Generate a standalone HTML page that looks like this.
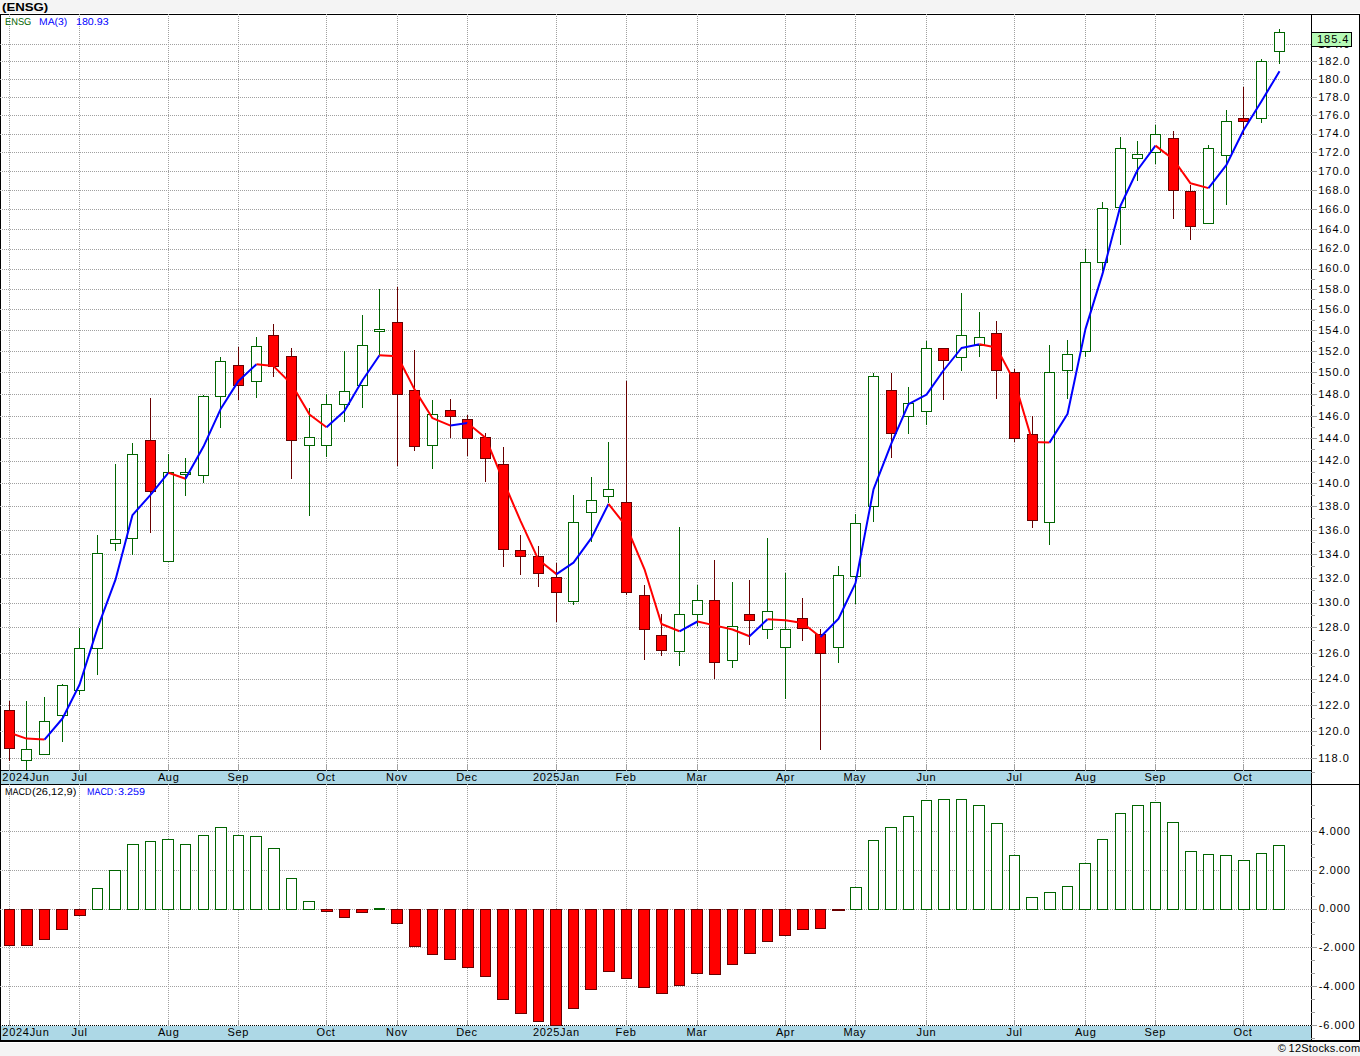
<!DOCTYPE html>
<html><head><meta charset="utf-8"><title>ENSG</title>
<style>
html,body{margin:0;padding:0;}
body{width:1360px;height:1056px;background:#f4f4f4;position:relative;overflow:hidden;font-family:"Liberation Sans",sans-serif;}
.t{position:absolute;white-space:nowrap;transform-origin:0 0;color:#000;line-height:14px;font-family:"Liberation Sans",sans-serif;}
</style></head><body>
<svg width="1360" height="1056" viewBox="0 0 1360 1056" style="position:absolute;left:0;top:0">
<g shape-rendering="crispEdges">
<rect x="0" y="13" width="1360" height="1030" fill="#ffffff"/>
<rect x="1" y="771" width="1310" height="13" fill="#add8e6"/>
<rect x="1" y="1026" width="1310" height="14" fill="#add8e6"/>
<line x1="0" y1="14.5" x2="1360" y2="14.5" stroke="#000"/>
<line x1="0.5" y1="14" x2="0.5" y2="1042" stroke="#000"/>
<line x1="1359.5" y1="14" x2="1359.5" y2="1042" stroke="#000"/>
<line x1="1311.5" y1="14" x2="1311.5" y2="1042" stroke="#000"/>
<line x1="0" y1="770.5" x2="1312" y2="770.5" stroke="#000"/>
<line x1="0" y1="784.5" x2="1360" y2="784.5" stroke="#000"/>
<line x1="0" y1="1025.5" x2="1312" y2="1025.5" stroke="#000" stroke-dasharray="1 1"/>
<rect x="0" y="1040" width="1360" height="2" fill="#000"/>
<line x1="9.5" y1="14" x2="9.5" y2="764" stroke="#a0a0a0" stroke-dasharray="1 1"/>
<line x1="9.5" y1="784" x2="9.5" y2="1020" stroke="#a0a0a0" stroke-dasharray="1 1"/>
<line x1="9.5" y1="764" x2="9.5" y2="771" stroke="#a0a0a0"/>
<line x1="9.5" y1="1020" x2="9.5" y2="1026" stroke="#a0a0a0"/>
<line x1="79.5" y1="14" x2="79.5" y2="764" stroke="#a0a0a0" stroke-dasharray="1 1"/>
<line x1="79.5" y1="784" x2="79.5" y2="1020" stroke="#a0a0a0" stroke-dasharray="1 1"/>
<line x1="79.5" y1="764" x2="79.5" y2="771" stroke="#a0a0a0"/>
<line x1="79.5" y1="1020" x2="79.5" y2="1026" stroke="#a0a0a0"/>
<line x1="168.5" y1="14" x2="168.5" y2="764" stroke="#a0a0a0" stroke-dasharray="1 1"/>
<line x1="168.5" y1="784" x2="168.5" y2="1020" stroke="#a0a0a0" stroke-dasharray="1 1"/>
<line x1="168.5" y1="764" x2="168.5" y2="771" stroke="#a0a0a0"/>
<line x1="168.5" y1="1020" x2="168.5" y2="1026" stroke="#a0a0a0"/>
<line x1="238.5" y1="14" x2="238.5" y2="764" stroke="#a0a0a0" stroke-dasharray="1 1"/>
<line x1="238.5" y1="784" x2="238.5" y2="1020" stroke="#a0a0a0" stroke-dasharray="1 1"/>
<line x1="238.5" y1="764" x2="238.5" y2="771" stroke="#a0a0a0"/>
<line x1="238.5" y1="1020" x2="238.5" y2="1026" stroke="#a0a0a0"/>
<line x1="326.5" y1="14" x2="326.5" y2="764" stroke="#a0a0a0" stroke-dasharray="1 1"/>
<line x1="326.5" y1="784" x2="326.5" y2="1020" stroke="#a0a0a0" stroke-dasharray="1 1"/>
<line x1="326.5" y1="764" x2="326.5" y2="771" stroke="#a0a0a0"/>
<line x1="326.5" y1="1020" x2="326.5" y2="1026" stroke="#a0a0a0"/>
<line x1="397.5" y1="14" x2="397.5" y2="764" stroke="#a0a0a0" stroke-dasharray="1 1"/>
<line x1="397.5" y1="784" x2="397.5" y2="1020" stroke="#a0a0a0" stroke-dasharray="1 1"/>
<line x1="397.5" y1="764" x2="397.5" y2="771" stroke="#a0a0a0"/>
<line x1="397.5" y1="1020" x2="397.5" y2="1026" stroke="#a0a0a0"/>
<line x1="467.5" y1="14" x2="467.5" y2="764" stroke="#a0a0a0" stroke-dasharray="1 1"/>
<line x1="467.5" y1="784" x2="467.5" y2="1020" stroke="#a0a0a0" stroke-dasharray="1 1"/>
<line x1="467.5" y1="764" x2="467.5" y2="771" stroke="#a0a0a0"/>
<line x1="467.5" y1="1020" x2="467.5" y2="1026" stroke="#a0a0a0"/>
<line x1="556.5" y1="14" x2="556.5" y2="764" stroke="#a0a0a0" stroke-dasharray="1 1"/>
<line x1="556.5" y1="784" x2="556.5" y2="1020" stroke="#a0a0a0" stroke-dasharray="1 1"/>
<line x1="556.5" y1="764" x2="556.5" y2="771" stroke="#a0a0a0"/>
<line x1="556.5" y1="1020" x2="556.5" y2="1026" stroke="#a0a0a0"/>
<line x1="626.5" y1="14" x2="626.5" y2="764" stroke="#a0a0a0" stroke-dasharray="1 1"/>
<line x1="626.5" y1="784" x2="626.5" y2="1020" stroke="#a0a0a0" stroke-dasharray="1 1"/>
<line x1="626.5" y1="764" x2="626.5" y2="771" stroke="#a0a0a0"/>
<line x1="626.5" y1="1020" x2="626.5" y2="1026" stroke="#a0a0a0"/>
<line x1="697.5" y1="14" x2="697.5" y2="764" stroke="#a0a0a0" stroke-dasharray="1 1"/>
<line x1="697.5" y1="784" x2="697.5" y2="1020" stroke="#a0a0a0" stroke-dasharray="1 1"/>
<line x1="697.5" y1="764" x2="697.5" y2="771" stroke="#a0a0a0"/>
<line x1="697.5" y1="1020" x2="697.5" y2="1026" stroke="#a0a0a0"/>
<line x1="785.5" y1="14" x2="785.5" y2="764" stroke="#a0a0a0" stroke-dasharray="1 1"/>
<line x1="785.5" y1="784" x2="785.5" y2="1020" stroke="#a0a0a0" stroke-dasharray="1 1"/>
<line x1="785.5" y1="764" x2="785.5" y2="771" stroke="#a0a0a0"/>
<line x1="785.5" y1="1020" x2="785.5" y2="1026" stroke="#a0a0a0"/>
<line x1="855.5" y1="14" x2="855.5" y2="764" stroke="#a0a0a0" stroke-dasharray="1 1"/>
<line x1="855.5" y1="784" x2="855.5" y2="1020" stroke="#a0a0a0" stroke-dasharray="1 1"/>
<line x1="855.5" y1="764" x2="855.5" y2="771" stroke="#a0a0a0"/>
<line x1="855.5" y1="1020" x2="855.5" y2="1026" stroke="#a0a0a0"/>
<line x1="926.5" y1="14" x2="926.5" y2="764" stroke="#a0a0a0" stroke-dasharray="1 1"/>
<line x1="926.5" y1="784" x2="926.5" y2="1020" stroke="#a0a0a0" stroke-dasharray="1 1"/>
<line x1="926.5" y1="764" x2="926.5" y2="771" stroke="#a0a0a0"/>
<line x1="926.5" y1="1020" x2="926.5" y2="1026" stroke="#a0a0a0"/>
<line x1="1014.5" y1="14" x2="1014.5" y2="764" stroke="#a0a0a0" stroke-dasharray="1 1"/>
<line x1="1014.5" y1="784" x2="1014.5" y2="1020" stroke="#a0a0a0" stroke-dasharray="1 1"/>
<line x1="1014.5" y1="764" x2="1014.5" y2="771" stroke="#a0a0a0"/>
<line x1="1014.5" y1="1020" x2="1014.5" y2="1026" stroke="#a0a0a0"/>
<line x1="1085.5" y1="14" x2="1085.5" y2="764" stroke="#a0a0a0" stroke-dasharray="1 1"/>
<line x1="1085.5" y1="784" x2="1085.5" y2="1020" stroke="#a0a0a0" stroke-dasharray="1 1"/>
<line x1="1085.5" y1="764" x2="1085.5" y2="771" stroke="#a0a0a0"/>
<line x1="1085.5" y1="1020" x2="1085.5" y2="1026" stroke="#a0a0a0"/>
<line x1="1155.5" y1="14" x2="1155.5" y2="764" stroke="#a0a0a0" stroke-dasharray="1 1"/>
<line x1="1155.5" y1="784" x2="1155.5" y2="1020" stroke="#a0a0a0" stroke-dasharray="1 1"/>
<line x1="1155.5" y1="764" x2="1155.5" y2="771" stroke="#a0a0a0"/>
<line x1="1155.5" y1="1020" x2="1155.5" y2="1026" stroke="#a0a0a0"/>
<line x1="1243.5" y1="14" x2="1243.5" y2="764" stroke="#a0a0a0" stroke-dasharray="1 1"/>
<line x1="1243.5" y1="784" x2="1243.5" y2="1020" stroke="#a0a0a0" stroke-dasharray="1 1"/>
<line x1="1243.5" y1="764" x2="1243.5" y2="771" stroke="#a0a0a0"/>
<line x1="1243.5" y1="1020" x2="1243.5" y2="1026" stroke="#a0a0a0"/>
<line x1="0" y1="758.5" x2="1311" y2="758.5" stroke="#a0a0a0" stroke-dasharray="1 1"/>
<line x1="1311" y1="758.5" x2="1317" y2="758.5" stroke="#a0a0a0"/>
<line x1="0" y1="731.5" x2="1311" y2="731.5" stroke="#a0a0a0" stroke-dasharray="1 1"/>
<line x1="1311" y1="731.5" x2="1317" y2="731.5" stroke="#a0a0a0"/>
<line x1="0" y1="705.5" x2="1311" y2="705.5" stroke="#a0a0a0" stroke-dasharray="1 1"/>
<line x1="1311" y1="705.5" x2="1317" y2="705.5" stroke="#a0a0a0"/>
<line x1="0" y1="679.5" x2="1311" y2="679.5" stroke="#a0a0a0" stroke-dasharray="1 1"/>
<line x1="1311" y1="679.5" x2="1317" y2="679.5" stroke="#a0a0a0"/>
<line x1="0" y1="653.5" x2="1311" y2="653.5" stroke="#a0a0a0" stroke-dasharray="1 1"/>
<line x1="1311" y1="653.5" x2="1317" y2="653.5" stroke="#a0a0a0"/>
<line x1="0" y1="627.5" x2="1311" y2="627.5" stroke="#a0a0a0" stroke-dasharray="1 1"/>
<line x1="1311" y1="627.5" x2="1317" y2="627.5" stroke="#a0a0a0"/>
<line x1="0" y1="603.5" x2="1311" y2="603.5" stroke="#a0a0a0" stroke-dasharray="1 1"/>
<line x1="1311" y1="603.5" x2="1317" y2="603.5" stroke="#a0a0a0"/>
<line x1="0" y1="578.5" x2="1311" y2="578.5" stroke="#a0a0a0" stroke-dasharray="1 1"/>
<line x1="1311" y1="578.5" x2="1317" y2="578.5" stroke="#a0a0a0"/>
<line x1="0" y1="554.5" x2="1311" y2="554.5" stroke="#a0a0a0" stroke-dasharray="1 1"/>
<line x1="1311" y1="554.5" x2="1317" y2="554.5" stroke="#a0a0a0"/>
<line x1="0" y1="530.5" x2="1311" y2="530.5" stroke="#a0a0a0" stroke-dasharray="1 1"/>
<line x1="1311" y1="530.5" x2="1317" y2="530.5" stroke="#a0a0a0"/>
<line x1="0" y1="506.5" x2="1311" y2="506.5" stroke="#a0a0a0" stroke-dasharray="1 1"/>
<line x1="1311" y1="506.5" x2="1317" y2="506.5" stroke="#a0a0a0"/>
<line x1="0" y1="483.5" x2="1311" y2="483.5" stroke="#a0a0a0" stroke-dasharray="1 1"/>
<line x1="1311" y1="483.5" x2="1317" y2="483.5" stroke="#a0a0a0"/>
<line x1="0" y1="461.5" x2="1311" y2="461.5" stroke="#a0a0a0" stroke-dasharray="1 1"/>
<line x1="1311" y1="461.5" x2="1317" y2="461.5" stroke="#a0a0a0"/>
<line x1="0" y1="438.5" x2="1311" y2="438.5" stroke="#a0a0a0" stroke-dasharray="1 1"/>
<line x1="1311" y1="438.5" x2="1317" y2="438.5" stroke="#a0a0a0"/>
<line x1="0" y1="416.5" x2="1311" y2="416.5" stroke="#a0a0a0" stroke-dasharray="1 1"/>
<line x1="1311" y1="416.5" x2="1317" y2="416.5" stroke="#a0a0a0"/>
<line x1="0" y1="394.5" x2="1311" y2="394.5" stroke="#a0a0a0" stroke-dasharray="1 1"/>
<line x1="1311" y1="394.5" x2="1317" y2="394.5" stroke="#a0a0a0"/>
<line x1="0" y1="372.5" x2="1311" y2="372.5" stroke="#a0a0a0" stroke-dasharray="1 1"/>
<line x1="1311" y1="372.5" x2="1317" y2="372.5" stroke="#a0a0a0"/>
<line x1="0" y1="351.5" x2="1311" y2="351.5" stroke="#a0a0a0" stroke-dasharray="1 1"/>
<line x1="1311" y1="351.5" x2="1317" y2="351.5" stroke="#a0a0a0"/>
<line x1="0" y1="330.5" x2="1311" y2="330.5" stroke="#a0a0a0" stroke-dasharray="1 1"/>
<line x1="1311" y1="330.5" x2="1317" y2="330.5" stroke="#a0a0a0"/>
<line x1="0" y1="309.5" x2="1311" y2="309.5" stroke="#a0a0a0" stroke-dasharray="1 1"/>
<line x1="1311" y1="309.5" x2="1317" y2="309.5" stroke="#a0a0a0"/>
<line x1="0" y1="289.5" x2="1311" y2="289.5" stroke="#a0a0a0" stroke-dasharray="1 1"/>
<line x1="1311" y1="289.5" x2="1317" y2="289.5" stroke="#a0a0a0"/>
<line x1="0" y1="269.5" x2="1311" y2="269.5" stroke="#a0a0a0" stroke-dasharray="1 1"/>
<line x1="1311" y1="269.5" x2="1317" y2="269.5" stroke="#a0a0a0"/>
<line x1="0" y1="249.5" x2="1311" y2="249.5" stroke="#a0a0a0" stroke-dasharray="1 1"/>
<line x1="1311" y1="249.5" x2="1317" y2="249.5" stroke="#a0a0a0"/>
<line x1="0" y1="229.5" x2="1311" y2="229.5" stroke="#a0a0a0" stroke-dasharray="1 1"/>
<line x1="1311" y1="229.5" x2="1317" y2="229.5" stroke="#a0a0a0"/>
<line x1="0" y1="209.5" x2="1311" y2="209.5" stroke="#a0a0a0" stroke-dasharray="1 1"/>
<line x1="1311" y1="209.5" x2="1317" y2="209.5" stroke="#a0a0a0"/>
<line x1="0" y1="190.5" x2="1311" y2="190.5" stroke="#a0a0a0" stroke-dasharray="1 1"/>
<line x1="1311" y1="190.5" x2="1317" y2="190.5" stroke="#a0a0a0"/>
<line x1="0" y1="171.5" x2="1311" y2="171.5" stroke="#a0a0a0" stroke-dasharray="1 1"/>
<line x1="1311" y1="171.5" x2="1317" y2="171.5" stroke="#a0a0a0"/>
<line x1="0" y1="152.5" x2="1311" y2="152.5" stroke="#a0a0a0" stroke-dasharray="1 1"/>
<line x1="1311" y1="152.5" x2="1317" y2="152.5" stroke="#a0a0a0"/>
<line x1="0" y1="134.5" x2="1311" y2="134.5" stroke="#a0a0a0" stroke-dasharray="1 1"/>
<line x1="1311" y1="134.5" x2="1317" y2="134.5" stroke="#a0a0a0"/>
<line x1="0" y1="115.5" x2="1311" y2="115.5" stroke="#a0a0a0" stroke-dasharray="1 1"/>
<line x1="1311" y1="115.5" x2="1317" y2="115.5" stroke="#a0a0a0"/>
<line x1="0" y1="97.5" x2="1311" y2="97.5" stroke="#a0a0a0" stroke-dasharray="1 1"/>
<line x1="1311" y1="97.5" x2="1317" y2="97.5" stroke="#a0a0a0"/>
<line x1="0" y1="79.5" x2="1311" y2="79.5" stroke="#a0a0a0" stroke-dasharray="1 1"/>
<line x1="1311" y1="79.5" x2="1317" y2="79.5" stroke="#a0a0a0"/>
<line x1="0" y1="61.5" x2="1311" y2="61.5" stroke="#a0a0a0" stroke-dasharray="1 1"/>
<line x1="1311" y1="61.5" x2="1317" y2="61.5" stroke="#a0a0a0"/>
<line x1="0" y1="44.5" x2="1311" y2="44.5" stroke="#a0a0a0" stroke-dasharray="1 1"/>
<line x1="1311" y1="44.5" x2="1317" y2="44.5" stroke="#a0a0a0"/>
<line x1="1311" y1="772.5" x2="1315" y2="772.5" stroke="#a0a0a0"/>
<line x1="1311" y1="745.5" x2="1315" y2="745.5" stroke="#a0a0a0"/>
<line x1="1311" y1="718.5" x2="1315" y2="718.5" stroke="#a0a0a0"/>
<line x1="1311" y1="692.5" x2="1315" y2="692.5" stroke="#a0a0a0"/>
<line x1="1311" y1="666.5" x2="1315" y2="666.5" stroke="#a0a0a0"/>
<line x1="1311" y1="640.5" x2="1315" y2="640.5" stroke="#a0a0a0"/>
<line x1="1311" y1="615.5" x2="1315" y2="615.5" stroke="#a0a0a0"/>
<line x1="1311" y1="590.5" x2="1315" y2="590.5" stroke="#a0a0a0"/>
<line x1="1311" y1="566.5" x2="1315" y2="566.5" stroke="#a0a0a0"/>
<line x1="1311" y1="542.5" x2="1315" y2="542.5" stroke="#a0a0a0"/>
<line x1="1311" y1="518.5" x2="1315" y2="518.5" stroke="#a0a0a0"/>
<line x1="1311" y1="495.5" x2="1315" y2="495.5" stroke="#a0a0a0"/>
<line x1="1311" y1="472.5" x2="1315" y2="472.5" stroke="#a0a0a0"/>
<line x1="1311" y1="449.5" x2="1315" y2="449.5" stroke="#a0a0a0"/>
<line x1="1311" y1="427.5" x2="1315" y2="427.5" stroke="#a0a0a0"/>
<line x1="1311" y1="405.5" x2="1315" y2="405.5" stroke="#a0a0a0"/>
<line x1="1311" y1="383.5" x2="1315" y2="383.5" stroke="#a0a0a0"/>
<line x1="1311" y1="362.5" x2="1315" y2="362.5" stroke="#a0a0a0"/>
<line x1="1311" y1="341.5" x2="1315" y2="341.5" stroke="#a0a0a0"/>
<line x1="1311" y1="320.5" x2="1315" y2="320.5" stroke="#a0a0a0"/>
<line x1="1311" y1="299.5" x2="1315" y2="299.5" stroke="#a0a0a0"/>
<line x1="1311" y1="279.5" x2="1315" y2="279.5" stroke="#a0a0a0"/>
<line x1="0" y1="831.5" x2="1311" y2="831.5" stroke="#a0a0a0" stroke-dasharray="1 1"/>
<line x1="0" y1="870.5" x2="1311" y2="870.5" stroke="#a0a0a0" stroke-dasharray="1 1"/>
<line x1="0" y1="909.5" x2="1311" y2="909.5" stroke="#a0a0a0" stroke-dasharray="1 1"/>
<line x1="0" y1="947.5" x2="1311" y2="947.5" stroke="#a0a0a0" stroke-dasharray="1 1"/>
<line x1="0" y1="986.5" x2="1311" y2="986.5" stroke="#a0a0a0" stroke-dasharray="1 1"/>
<line x1="1311" y1="805.5" x2="1315" y2="805.5" stroke="#a0a0a0"/>
<line x1="1311" y1="818.5" x2="1315" y2="818.5" stroke="#a0a0a0"/>
<line x1="1311" y1="831.5" x2="1317" y2="831.5" stroke="#a0a0a0"/>
<line x1="1311" y1="844.5" x2="1315" y2="844.5" stroke="#a0a0a0"/>
<line x1="1311" y1="857.5" x2="1315" y2="857.5" stroke="#a0a0a0"/>
<line x1="1311" y1="870.5" x2="1317" y2="870.5" stroke="#a0a0a0"/>
<line x1="1311" y1="883.5" x2="1315" y2="883.5" stroke="#a0a0a0"/>
<line x1="1311" y1="896.5" x2="1315" y2="896.5" stroke="#a0a0a0"/>
<line x1="1311" y1="909.5" x2="1317" y2="909.5" stroke="#a0a0a0"/>
<line x1="1311" y1="922.5" x2="1315" y2="922.5" stroke="#a0a0a0"/>
<line x1="1311" y1="934.5" x2="1315" y2="934.5" stroke="#a0a0a0"/>
<line x1="1311" y1="947.5" x2="1317" y2="947.5" stroke="#a0a0a0"/>
<line x1="1311" y1="960.5" x2="1315" y2="960.5" stroke="#a0a0a0"/>
<line x1="1311" y1="973.5" x2="1315" y2="973.5" stroke="#a0a0a0"/>
<line x1="1311" y1="986.5" x2="1317" y2="986.5" stroke="#a0a0a0"/>
<line x1="1311" y1="999.5" x2="1315" y2="999.5" stroke="#a0a0a0"/>
<line x1="1311" y1="1012.5" x2="1315" y2="1012.5" stroke="#a0a0a0"/>
<line x1="1311" y1="1025.5" x2="1317" y2="1025.5" stroke="#a0a0a0"/>
<line x1="1311" y1="1038.5" x2="1315" y2="1038.5" stroke="#a0a0a0"/>
<rect x="4.5" y="909.5" width="10" height="36" fill="#ff0000" stroke="#680000"/>
<rect x="21.5" y="909.5" width="11" height="36" fill="#ff0000" stroke="#680000"/>
<rect x="39.5" y="909.5" width="10" height="30" fill="#ff0000" stroke="#680000"/>
<rect x="56.5" y="909.5" width="11" height="20" fill="#ff0000" stroke="#680000"/>
<rect x="74.5" y="909.5" width="11" height="6" fill="#ff0000" stroke="#680000"/>
<rect x="92.5" y="888.5" width="10" height="21" fill="#ffffff" stroke="#006400"/>
<rect x="109.5" y="870.5" width="11" height="39" fill="#ffffff" stroke="#006400"/>
<rect x="127.5" y="844.5" width="11" height="65" fill="#ffffff" stroke="#006400"/>
<rect x="145.5" y="841.5" width="10" height="68" fill="#ffffff" stroke="#006400"/>
<rect x="162.5" y="839.5" width="11" height="70" fill="#ffffff" stroke="#006400"/>
<rect x="180.5" y="844.5" width="10" height="65" fill="#ffffff" stroke="#006400"/>
<rect x="198.5" y="835.5" width="10" height="74" fill="#ffffff" stroke="#006400"/>
<rect x="215.5" y="827.5" width="11" height="82" fill="#ffffff" stroke="#006400"/>
<rect x="233.5" y="835.5" width="10" height="74" fill="#ffffff" stroke="#006400"/>
<rect x="250.5" y="836.5" width="11" height="73" fill="#ffffff" stroke="#006400"/>
<rect x="268.5" y="848.5" width="11" height="61" fill="#ffffff" stroke="#006400"/>
<rect x="286.5" y="878.5" width="10" height="31" fill="#ffffff" stroke="#006400"/>
<rect x="303.5" y="901.5" width="11" height="8" fill="#ffffff" stroke="#006400"/>
<rect x="321.5" y="909.5" width="11" height="2" fill="#ff0000" stroke="#680000"/>
<rect x="339.5" y="909.5" width="10" height="8" fill="#ff0000" stroke="#680000"/>
<rect x="356.5" y="909.5" width="11" height="3" fill="#ff0000" stroke="#680000"/>
<rect x="374.5" y="908.5" width="10" height="1" fill="#ffffff" stroke="#006400"/>
<rect x="391.5" y="909.5" width="11" height="14" fill="#ff0000" stroke="#680000"/>
<rect x="409.5" y="909.5" width="11" height="37" fill="#ff0000" stroke="#680000"/>
<rect x="427.5" y="909.5" width="10" height="45" fill="#ff0000" stroke="#680000"/>
<rect x="444.5" y="909.5" width="11" height="50" fill="#ff0000" stroke="#680000"/>
<rect x="462.5" y="909.5" width="11" height="58" fill="#ff0000" stroke="#680000"/>
<rect x="480.5" y="909.5" width="10" height="67" fill="#ff0000" stroke="#680000"/>
<rect x="497.5" y="909.5" width="11" height="90" fill="#ff0000" stroke="#680000"/>
<rect x="515.5" y="909.5" width="11" height="104" fill="#ff0000" stroke="#680000"/>
<rect x="533.5" y="909.5" width="10" height="112" fill="#ff0000" stroke="#680000"/>
<rect x="550.5" y="909.5" width="11" height="116" fill="#ff0000" stroke="#680000"/>
<rect x="568.5" y="909.5" width="10" height="99" fill="#ff0000" stroke="#680000"/>
<rect x="585.5" y="909.5" width="11" height="80" fill="#ff0000" stroke="#680000"/>
<rect x="603.5" y="909.5" width="11" height="62" fill="#ff0000" stroke="#680000"/>
<rect x="621.5" y="909.5" width="10" height="69" fill="#ff0000" stroke="#680000"/>
<rect x="638.5" y="909.5" width="11" height="78" fill="#ff0000" stroke="#680000"/>
<rect x="656.5" y="909.5" width="11" height="84" fill="#ff0000" stroke="#680000"/>
<rect x="674.5" y="909.5" width="10" height="76" fill="#ff0000" stroke="#680000"/>
<rect x="691.5" y="909.5" width="11" height="64" fill="#ff0000" stroke="#680000"/>
<rect x="709.5" y="909.5" width="11" height="65" fill="#ff0000" stroke="#680000"/>
<rect x="727.5" y="909.5" width="10" height="55" fill="#ff0000" stroke="#680000"/>
<rect x="744.5" y="909.5" width="11" height="44" fill="#ff0000" stroke="#680000"/>
<rect x="762.5" y="909.5" width="10" height="32" fill="#ff0000" stroke="#680000"/>
<rect x="779.5" y="909.5" width="11" height="26" fill="#ff0000" stroke="#680000"/>
<rect x="797.5" y="909.5" width="11" height="20" fill="#ff0000" stroke="#680000"/>
<rect x="815.5" y="909.5" width="10" height="19" fill="#ff0000" stroke="#680000"/>
<rect x="832.5" y="909.5" width="12" height="1" fill="#ff0000" stroke="#680000"/>
<rect x="850.5" y="887.5" width="11" height="22" fill="#ffffff" stroke="#006400"/>
<rect x="868.5" y="840.5" width="10" height="69" fill="#ffffff" stroke="#006400"/>
<rect x="885.5" y="827.5" width="11" height="82" fill="#ffffff" stroke="#006400"/>
<rect x="903.5" y="816.5" width="10" height="93" fill="#ffffff" stroke="#006400"/>
<rect x="921.5" y="800.5" width="10" height="109" fill="#ffffff" stroke="#006400"/>
<rect x="938.5" y="799.5" width="11" height="110" fill="#ffffff" stroke="#006400"/>
<rect x="956.5" y="799.5" width="10" height="110" fill="#ffffff" stroke="#006400"/>
<rect x="973.5" y="805.5" width="11" height="104" fill="#ffffff" stroke="#006400"/>
<rect x="991.5" y="823.5" width="11" height="86" fill="#ffffff" stroke="#006400"/>
<rect x="1009.5" y="855.5" width="10" height="54" fill="#ffffff" stroke="#006400"/>
<rect x="1026.5" y="897.5" width="11" height="12" fill="#ffffff" stroke="#006400"/>
<rect x="1044.5" y="892.5" width="11" height="17" fill="#ffffff" stroke="#006400"/>
<rect x="1062.5" y="886.5" width="10" height="23" fill="#ffffff" stroke="#006400"/>
<rect x="1079.5" y="863.5" width="11" height="46" fill="#ffffff" stroke="#006400"/>
<rect x="1097.5" y="839.5" width="10" height="70" fill="#ffffff" stroke="#006400"/>
<rect x="1115.5" y="813.5" width="10" height="96" fill="#ffffff" stroke="#006400"/>
<rect x="1132.5" y="805.5" width="11" height="104" fill="#ffffff" stroke="#006400"/>
<rect x="1150.5" y="802.5" width="10" height="107" fill="#ffffff" stroke="#006400"/>
<rect x="1167.5" y="822.5" width="11" height="87" fill="#ffffff" stroke="#006400"/>
<rect x="1185.5" y="851.5" width="11" height="58" fill="#ffffff" stroke="#006400"/>
<rect x="1203.5" y="854.5" width="10" height="55" fill="#ffffff" stroke="#006400"/>
<rect x="1220.5" y="855.5" width="11" height="54" fill="#ffffff" stroke="#006400"/>
<rect x="1238.5" y="860.5" width="11" height="49" fill="#ffffff" stroke="#006400"/>
<rect x="1256.5" y="853.5" width="10" height="56" fill="#ffffff" stroke="#006400"/>
<rect x="1273.5" y="845.5" width="11" height="64" fill="#ffffff" stroke="#006400"/>
<line x1="9.5" y1="701" x2="9.5" y2="710" stroke="#680000"/>
<line x1="9.5" y1="749" x2="9.5" y2="761" stroke="#680000"/>
<rect x="4.5" y="710.5" width="10" height="38" fill="#ff0000" stroke="#680000"/>
<line x1="26.5" y1="701" x2="26.5" y2="749" stroke="#006400"/>
<line x1="26.5" y1="761" x2="26.5" y2="770" stroke="#006400"/>
<rect x="21.5" y="749.5" width="10" height="11" fill="#ffffff" stroke="#006400"/>
<line x1="44.5" y1="697" x2="44.5" y2="721" stroke="#006400"/>
<rect x="39.5" y="721.5" width="10" height="33" fill="#ffffff" stroke="#006400"/>
<line x1="62.5" y1="684" x2="62.5" y2="685" stroke="#006400"/>
<line x1="62.5" y1="716" x2="62.5" y2="742" stroke="#006400"/>
<rect x="57.5" y="685.5" width="10" height="30" fill="#ffffff" stroke="#006400"/>
<line x1="79.5" y1="628" x2="79.5" y2="648" stroke="#006400"/>
<line x1="79.5" y1="691" x2="79.5" y2="695" stroke="#006400"/>
<rect x="74.5" y="648.5" width="10" height="42" fill="#ffffff" stroke="#006400"/>
<line x1="97.5" y1="535" x2="97.5" y2="553" stroke="#006400"/>
<line x1="97.5" y1="649" x2="97.5" y2="675" stroke="#006400"/>
<rect x="92.5" y="553.5" width="10" height="95" fill="#ffffff" stroke="#006400"/>
<line x1="115.5" y1="464" x2="115.5" y2="539" stroke="#006400"/>
<line x1="115.5" y1="544" x2="115.5" y2="551" stroke="#006400"/>
<rect x="110.5" y="539.5" width="10" height="4" fill="#ffffff" stroke="#006400"/>
<line x1="132.5" y1="443" x2="132.5" y2="454" stroke="#006400"/>
<line x1="132.5" y1="539" x2="132.5" y2="555" stroke="#006400"/>
<rect x="127.5" y="454.5" width="10" height="84" fill="#ffffff" stroke="#006400"/>
<line x1="150.5" y1="398" x2="150.5" y2="440" stroke="#680000"/>
<line x1="150.5" y1="492" x2="150.5" y2="533" stroke="#680000"/>
<rect x="145.5" y="440.5" width="10" height="51" fill="#ff0000" stroke="#680000"/>
<line x1="168.5" y1="454" x2="168.5" y2="472" stroke="#006400"/>
<rect x="163.5" y="472.5" width="10" height="89" fill="#ffffff" stroke="#006400"/>
<line x1="185.5" y1="458" x2="185.5" y2="472" stroke="#006400"/>
<line x1="185.5" y1="475" x2="185.5" y2="496" stroke="#006400"/>
<rect x="180.5" y="472.5" width="10" height="2" fill="#ffffff" stroke="#006400"/>
<line x1="203.5" y1="395" x2="203.5" y2="396" stroke="#006400"/>
<line x1="203.5" y1="476" x2="203.5" y2="483" stroke="#006400"/>
<rect x="198.5" y="396.5" width="10" height="79" fill="#ffffff" stroke="#006400"/>
<line x1="220.5" y1="357" x2="220.5" y2="361" stroke="#006400"/>
<line x1="220.5" y1="397" x2="220.5" y2="428" stroke="#006400"/>
<rect x="215.5" y="361.5" width="10" height="35" fill="#ffffff" stroke="#006400"/>
<line x1="238.5" y1="347" x2="238.5" y2="365" stroke="#680000"/>
<line x1="238.5" y1="386" x2="238.5" y2="400" stroke="#680000"/>
<rect x="233.5" y="365.5" width="10" height="20" fill="#ff0000" stroke="#680000"/>
<line x1="256.5" y1="337" x2="256.5" y2="346" stroke="#006400"/>
<line x1="256.5" y1="382" x2="256.5" y2="398" stroke="#006400"/>
<rect x="251.5" y="346.5" width="10" height="35" fill="#ffffff" stroke="#006400"/>
<line x1="273.5" y1="324" x2="273.5" y2="335" stroke="#680000"/>
<line x1="273.5" y1="367" x2="273.5" y2="377" stroke="#680000"/>
<rect x="268.5" y="335.5" width="10" height="31" fill="#ff0000" stroke="#680000"/>
<line x1="291.5" y1="348" x2="291.5" y2="356" stroke="#680000"/>
<line x1="291.5" y1="441" x2="291.5" y2="479" stroke="#680000"/>
<rect x="286.5" y="356.5" width="10" height="84" fill="#ff0000" stroke="#680000"/>
<line x1="309.5" y1="408" x2="309.5" y2="437" stroke="#006400"/>
<line x1="309.5" y1="446" x2="309.5" y2="516" stroke="#006400"/>
<rect x="304.5" y="437.5" width="10" height="8" fill="#ffffff" stroke="#006400"/>
<line x1="326.5" y1="394" x2="326.5" y2="404" stroke="#006400"/>
<line x1="326.5" y1="446" x2="326.5" y2="457" stroke="#006400"/>
<rect x="321.5" y="404.5" width="10" height="41" fill="#ffffff" stroke="#006400"/>
<line x1="344.5" y1="351" x2="344.5" y2="391" stroke="#006400"/>
<line x1="344.5" y1="405" x2="344.5" y2="422" stroke="#006400"/>
<rect x="339.5" y="391.5" width="10" height="13" fill="#ffffff" stroke="#006400"/>
<line x1="362.5" y1="315" x2="362.5" y2="345" stroke="#006400"/>
<line x1="362.5" y1="386" x2="362.5" y2="408" stroke="#006400"/>
<rect x="357.5" y="345.5" width="10" height="40" fill="#ffffff" stroke="#006400"/>
<line x1="379.5" y1="289" x2="379.5" y2="329" stroke="#006400"/>
<line x1="379.5" y1="332" x2="379.5" y2="355" stroke="#006400"/>
<rect x="374.5" y="329.5" width="10" height="2" fill="#ffffff" stroke="#006400"/>
<line x1="397.5" y1="287" x2="397.5" y2="322" stroke="#680000"/>
<line x1="397.5" y1="395" x2="397.5" y2="466" stroke="#680000"/>
<rect x="392.5" y="322.5" width="10" height="72" fill="#ff0000" stroke="#680000"/>
<line x1="414.5" y1="350" x2="414.5" y2="390" stroke="#680000"/>
<line x1="414.5" y1="447" x2="414.5" y2="451" stroke="#680000"/>
<rect x="409.5" y="390.5" width="10" height="56" fill="#ff0000" stroke="#680000"/>
<line x1="432.5" y1="400" x2="432.5" y2="414" stroke="#006400"/>
<line x1="432.5" y1="446" x2="432.5" y2="469" stroke="#006400"/>
<rect x="427.5" y="414.5" width="10" height="31" fill="#ffffff" stroke="#006400"/>
<line x1="450.5" y1="399" x2="450.5" y2="410" stroke="#680000"/>
<line x1="450.5" y1="417" x2="450.5" y2="438" stroke="#680000"/>
<rect x="445.5" y="410.5" width="10" height="6" fill="#ff0000" stroke="#680000"/>
<line x1="467.5" y1="415" x2="467.5" y2="419" stroke="#680000"/>
<line x1="467.5" y1="439" x2="467.5" y2="456" stroke="#680000"/>
<rect x="462.5" y="419.5" width="10" height="19" fill="#ff0000" stroke="#680000"/>
<line x1="485.5" y1="433" x2="485.5" y2="437" stroke="#680000"/>
<line x1="485.5" y1="459" x2="485.5" y2="482" stroke="#680000"/>
<rect x="480.5" y="437.5" width="10" height="21" fill="#ff0000" stroke="#680000"/>
<line x1="503.5" y1="447" x2="503.5" y2="464" stroke="#680000"/>
<line x1="503.5" y1="550" x2="503.5" y2="567" stroke="#680000"/>
<rect x="498.5" y="464.5" width="10" height="85" fill="#ff0000" stroke="#680000"/>
<line x1="520.5" y1="535" x2="520.5" y2="550" stroke="#680000"/>
<line x1="520.5" y1="557" x2="520.5" y2="575" stroke="#680000"/>
<rect x="515.5" y="550.5" width="10" height="6" fill="#ff0000" stroke="#680000"/>
<line x1="538.5" y1="546" x2="538.5" y2="556" stroke="#680000"/>
<line x1="538.5" y1="574" x2="538.5" y2="587" stroke="#680000"/>
<rect x="533.5" y="556.5" width="10" height="17" fill="#ff0000" stroke="#680000"/>
<line x1="556.5" y1="563" x2="556.5" y2="577" stroke="#680000"/>
<line x1="556.5" y1="593" x2="556.5" y2="622" stroke="#680000"/>
<rect x="551.5" y="577.5" width="10" height="15" fill="#ff0000" stroke="#680000"/>
<line x1="573.5" y1="495" x2="573.5" y2="522" stroke="#006400"/>
<line x1="573.5" y1="602" x2="573.5" y2="605" stroke="#006400"/>
<rect x="568.5" y="522.5" width="10" height="79" fill="#ffffff" stroke="#006400"/>
<line x1="591.5" y1="477" x2="591.5" y2="500" stroke="#006400"/>
<line x1="591.5" y1="513" x2="591.5" y2="542" stroke="#006400"/>
<rect x="586.5" y="500.5" width="10" height="12" fill="#ffffff" stroke="#006400"/>
<line x1="608.5" y1="442" x2="608.5" y2="489" stroke="#006400"/>
<line x1="608.5" y1="497" x2="608.5" y2="503" stroke="#006400"/>
<rect x="603.5" y="489.5" width="10" height="7" fill="#ffffff" stroke="#006400"/>
<line x1="626.5" y1="381" x2="626.5" y2="502" stroke="#680000"/>
<line x1="626.5" y1="593" x2="626.5" y2="595" stroke="#680000"/>
<rect x="621.5" y="502.5" width="10" height="90" fill="#ff0000" stroke="#680000"/>
<line x1="644.5" y1="585" x2="644.5" y2="595" stroke="#680000"/>
<line x1="644.5" y1="630" x2="644.5" y2="660" stroke="#680000"/>
<rect x="639.5" y="595.5" width="10" height="34" fill="#ff0000" stroke="#680000"/>
<line x1="661.5" y1="614" x2="661.5" y2="635" stroke="#680000"/>
<line x1="661.5" y1="651" x2="661.5" y2="656" stroke="#680000"/>
<rect x="656.5" y="635.5" width="10" height="15" fill="#ff0000" stroke="#680000"/>
<line x1="679.5" y1="527" x2="679.5" y2="614" stroke="#006400"/>
<line x1="679.5" y1="652" x2="679.5" y2="666" stroke="#006400"/>
<rect x="674.5" y="614.5" width="10" height="37" fill="#ffffff" stroke="#006400"/>
<line x1="697.5" y1="585" x2="697.5" y2="600" stroke="#006400"/>
<line x1="697.5" y1="615" x2="697.5" y2="626" stroke="#006400"/>
<rect x="692.5" y="600.5" width="10" height="14" fill="#ffffff" stroke="#006400"/>
<line x1="714.5" y1="560" x2="714.5" y2="600" stroke="#680000"/>
<line x1="714.5" y1="663" x2="714.5" y2="679" stroke="#680000"/>
<rect x="709.5" y="600.5" width="10" height="62" fill="#ff0000" stroke="#680000"/>
<line x1="732.5" y1="582" x2="732.5" y2="626" stroke="#006400"/>
<line x1="732.5" y1="661" x2="732.5" y2="668" stroke="#006400"/>
<rect x="727.5" y="626.5" width="10" height="34" fill="#ffffff" stroke="#006400"/>
<line x1="749.5" y1="580" x2="749.5" y2="614" stroke="#680000"/>
<line x1="749.5" y1="621" x2="749.5" y2="645" stroke="#680000"/>
<rect x="744.5" y="614.5" width="10" height="6" fill="#ff0000" stroke="#680000"/>
<line x1="767.5" y1="538" x2="767.5" y2="611" stroke="#006400"/>
<line x1="767.5" y1="630" x2="767.5" y2="639" stroke="#006400"/>
<rect x="762.5" y="611.5" width="10" height="18" fill="#ffffff" stroke="#006400"/>
<line x1="785.5" y1="573" x2="785.5" y2="629" stroke="#006400"/>
<line x1="785.5" y1="648" x2="785.5" y2="699" stroke="#006400"/>
<rect x="780.5" y="629.5" width="10" height="18" fill="#ffffff" stroke="#006400"/>
<line x1="802.5" y1="598" x2="802.5" y2="618" stroke="#680000"/>
<line x1="802.5" y1="629" x2="802.5" y2="641" stroke="#680000"/>
<rect x="797.5" y="618.5" width="10" height="10" fill="#ff0000" stroke="#680000"/>
<line x1="820.5" y1="629" x2="820.5" y2="634" stroke="#680000"/>
<line x1="820.5" y1="654" x2="820.5" y2="750" stroke="#680000"/>
<rect x="815.5" y="634.5" width="10" height="19" fill="#ff0000" stroke="#680000"/>
<line x1="838.5" y1="566" x2="838.5" y2="575" stroke="#006400"/>
<line x1="838.5" y1="648" x2="838.5" y2="663" stroke="#006400"/>
<rect x="833.5" y="575.5" width="10" height="72" fill="#ffffff" stroke="#006400"/>
<line x1="855.5" y1="514" x2="855.5" y2="523" stroke="#006400"/>
<line x1="855.5" y1="577" x2="855.5" y2="604" stroke="#006400"/>
<rect x="850.5" y="523.5" width="10" height="53" fill="#ffffff" stroke="#006400"/>
<line x1="873.5" y1="373" x2="873.5" y2="376" stroke="#006400"/>
<line x1="873.5" y1="507" x2="873.5" y2="522" stroke="#006400"/>
<rect x="868.5" y="376.5" width="10" height="130" fill="#ffffff" stroke="#006400"/>
<line x1="891.5" y1="373" x2="891.5" y2="390" stroke="#680000"/>
<line x1="891.5" y1="434" x2="891.5" y2="458" stroke="#680000"/>
<rect x="886.5" y="390.5" width="10" height="43" fill="#ff0000" stroke="#680000"/>
<line x1="908.5" y1="387" x2="908.5" y2="403" stroke="#006400"/>
<line x1="908.5" y1="417" x2="908.5" y2="434" stroke="#006400"/>
<rect x="903.5" y="403.5" width="10" height="13" fill="#ffffff" stroke="#006400"/>
<line x1="926.5" y1="341" x2="926.5" y2="348" stroke="#006400"/>
<line x1="926.5" y1="412" x2="926.5" y2="425" stroke="#006400"/>
<rect x="921.5" y="348.5" width="10" height="63" fill="#ffffff" stroke="#006400"/>
<line x1="943.5" y1="361" x2="943.5" y2="400" stroke="#680000"/>
<rect x="938.5" y="348.5" width="10" height="12" fill="#ff0000" stroke="#680000"/>
<line x1="961.5" y1="293" x2="961.5" y2="335" stroke="#006400"/>
<line x1="961.5" y1="358" x2="961.5" y2="371" stroke="#006400"/>
<rect x="956.5" y="335.5" width="10" height="22" fill="#ffffff" stroke="#006400"/>
<line x1="979.5" y1="312" x2="979.5" y2="337" stroke="#006400"/>
<line x1="979.5" y1="346" x2="979.5" y2="357" stroke="#006400"/>
<rect x="974.5" y="337.5" width="10" height="8" fill="#ffffff" stroke="#006400"/>
<line x1="996.5" y1="321" x2="996.5" y2="333" stroke="#680000"/>
<line x1="996.5" y1="371" x2="996.5" y2="399" stroke="#680000"/>
<rect x="991.5" y="333.5" width="10" height="37" fill="#ff0000" stroke="#680000"/>
<line x1="1014.5" y1="369" x2="1014.5" y2="372" stroke="#680000"/>
<line x1="1014.5" y1="439" x2="1014.5" y2="442" stroke="#680000"/>
<rect x="1009.5" y="372.5" width="10" height="66" fill="#ff0000" stroke="#680000"/>
<line x1="1032.5" y1="416" x2="1032.5" y2="434" stroke="#680000"/>
<line x1="1032.5" y1="521" x2="1032.5" y2="528" stroke="#680000"/>
<rect x="1027.5" y="434.5" width="10" height="86" fill="#ff0000" stroke="#680000"/>
<line x1="1049.5" y1="345" x2="1049.5" y2="372" stroke="#006400"/>
<line x1="1049.5" y1="523" x2="1049.5" y2="545" stroke="#006400"/>
<rect x="1044.5" y="372.5" width="10" height="150" fill="#ffffff" stroke="#006400"/>
<line x1="1067.5" y1="340" x2="1067.5" y2="354" stroke="#006400"/>
<line x1="1067.5" y1="371" x2="1067.5" y2="399" stroke="#006400"/>
<rect x="1062.5" y="354.5" width="10" height="16" fill="#ffffff" stroke="#006400"/>
<line x1="1085.5" y1="249" x2="1085.5" y2="262" stroke="#006400"/>
<line x1="1085.5" y1="352" x2="1085.5" y2="357" stroke="#006400"/>
<rect x="1080.5" y="262.5" width="10" height="89" fill="#ffffff" stroke="#006400"/>
<line x1="1102.5" y1="202" x2="1102.5" y2="208" stroke="#006400"/>
<line x1="1102.5" y1="263" x2="1102.5" y2="271" stroke="#006400"/>
<rect x="1097.5" y="208.5" width="10" height="54" fill="#ffffff" stroke="#006400"/>
<line x1="1120.5" y1="137" x2="1120.5" y2="148" stroke="#006400"/>
<line x1="1120.5" y1="208" x2="1120.5" y2="245" stroke="#006400"/>
<rect x="1115.5" y="148.5" width="10" height="59" fill="#ffffff" stroke="#006400"/>
<line x1="1137.5" y1="141" x2="1137.5" y2="154" stroke="#006400"/>
<line x1="1137.5" y1="159" x2="1137.5" y2="181" stroke="#006400"/>
<rect x="1132.5" y="154.5" width="10" height="4" fill="#ffffff" stroke="#006400"/>
<line x1="1155.5" y1="125" x2="1155.5" y2="134" stroke="#006400"/>
<line x1="1155.5" y1="153" x2="1155.5" y2="164" stroke="#006400"/>
<rect x="1150.5" y="134.5" width="10" height="18" fill="#ffffff" stroke="#006400"/>
<line x1="1173.5" y1="131" x2="1173.5" y2="138" stroke="#680000"/>
<line x1="1173.5" y1="191" x2="1173.5" y2="219" stroke="#680000"/>
<rect x="1168.5" y="138.5" width="10" height="52" fill="#ff0000" stroke="#680000"/>
<line x1="1190.5" y1="185" x2="1190.5" y2="191" stroke="#680000"/>
<line x1="1190.5" y1="227" x2="1190.5" y2="240" stroke="#680000"/>
<rect x="1185.5" y="191.5" width="10" height="35" fill="#ff0000" stroke="#680000"/>
<line x1="1208.5" y1="145" x2="1208.5" y2="148" stroke="#006400"/>
<rect x="1203.5" y="148.5" width="10" height="75" fill="#ffffff" stroke="#006400"/>
<line x1="1226.5" y1="110" x2="1226.5" y2="121" stroke="#006400"/>
<line x1="1226.5" y1="156" x2="1226.5" y2="205" stroke="#006400"/>
<rect x="1221.5" y="121.5" width="10" height="34" fill="#ffffff" stroke="#006400"/>
<line x1="1243.5" y1="87" x2="1243.5" y2="118" stroke="#680000"/>
<line x1="1243.5" y1="122" x2="1243.5" y2="135" stroke="#680000"/>
<rect x="1238.5" y="118.5" width="10" height="3" fill="#ff0000" stroke="#680000"/>
<line x1="1261.5" y1="59" x2="1261.5" y2="61" stroke="#006400"/>
<line x1="1261.5" y1="119" x2="1261.5" y2="123" stroke="#006400"/>
<rect x="1256.5" y="61.5" width="10" height="57" fill="#ffffff" stroke="#006400"/>
<line x1="1279.5" y1="29" x2="1279.5" y2="32" stroke="#006400"/>
<line x1="1279.5" y1="52" x2="1279.5" y2="64" stroke="#006400"/>
<rect x="1274.5" y="32.5" width="10" height="19" fill="#ffffff" stroke="#006400"/>
</g>
<polyline points="9.5,732.7 26.5,738.6 44.5,739.6" fill="none" stroke="#ff0000" stroke-width="2" stroke-linejoin="round" stroke-linecap="butt"/>
<polyline points="44.5,739.6 62.5,718.5 79.5,684.7 97.5,628.1 115.5,579.7 132.5,515.1 150.5,494.8 168.5,472.7" fill="none" stroke="#0000ff" stroke-width="2" stroke-linejoin="round" stroke-linecap="butt"/>
<polyline points="168.5,472.7 185.5,478.8" fill="none" stroke="#ff0000" stroke-width="2" stroke-linejoin="round" stroke-linecap="butt"/>
<polyline points="185.5,478.8 203.5,446.6 220.5,409.3 238.5,380.9 256.5,364.3" fill="none" stroke="#0000ff" stroke-width="2" stroke-linejoin="round" stroke-linecap="butt"/>
<polyline points="256.5,364.3 273.5,366.1 291.5,384.0 309.5,414.5 326.5,427.2" fill="none" stroke="#ff0000" stroke-width="2" stroke-linejoin="round" stroke-linecap="butt"/>
<polyline points="326.5,427.2 344.5,410.9 362.5,380.2 379.5,355.3" fill="none" stroke="#0000ff" stroke-width="2" stroke-linejoin="round" stroke-linecap="butt"/>
<polyline points="379.5,355.3 397.5,356.3 414.5,389.4 432.5,418.2 450.5,425.6" fill="none" stroke="#ff0000" stroke-width="2" stroke-linejoin="round" stroke-linecap="butt"/>
<polyline points="450.5,425.6 467.5,423.0" fill="none" stroke="#0000ff" stroke-width="2" stroke-linejoin="round" stroke-linecap="butt"/>
<polyline points="467.5,423.0 485.5,437.7 503.5,481.4 520.5,520.9 538.5,559.8 556.5,574.1" fill="none" stroke="#ff0000" stroke-width="2" stroke-linejoin="round" stroke-linecap="butt"/>
<polyline points="556.5,574.1 573.5,562.6 591.5,537.9 608.5,503.9" fill="none" stroke="#0000ff" stroke-width="2" stroke-linejoin="round" stroke-linecap="butt"/>
<polyline points="608.5,503.9 626.5,526.7 644.5,569.3 661.5,624.0 679.5,631.3" fill="none" stroke="#ff0000" stroke-width="2" stroke-linejoin="round" stroke-linecap="butt"/>
<polyline points="679.5,631.3 697.5,621.5" fill="none" stroke="#0000ff" stroke-width="2" stroke-linejoin="round" stroke-linecap="butt"/>
<polyline points="697.5,621.5 714.5,625.4 732.5,629.5 749.5,636.3" fill="none" stroke="#ff0000" stroke-width="2" stroke-linejoin="round" stroke-linecap="butt"/>
<polyline points="749.5,636.3 767.5,619.3" fill="none" stroke="#0000ff" stroke-width="2" stroke-linejoin="round" stroke-linecap="butt"/>
<polyline points="767.5,619.3 785.5,620.3 802.5,623.0 820.5,637.0" fill="none" stroke="#ff0000" stroke-width="2" stroke-linejoin="round" stroke-linecap="butt"/>
<polyline points="820.5,637.0 838.5,618.8 855.5,583.1 873.5,489.4 891.5,443.2 908.5,404.2 926.5,394.6 943.5,370.5 961.5,348.0 979.5,344.3" fill="none" stroke="#0000ff" stroke-width="2" stroke-linejoin="round" stroke-linecap="butt"/>
<polyline points="979.5,344.3 996.5,347.6 1014.5,381.5 1032.5,442.0 1049.5,442.6" fill="none" stroke="#ff0000" stroke-width="2" stroke-linejoin="round" stroke-linecap="butt"/>
<polyline points="1049.5,442.6 1067.5,414.0 1085.5,328.9 1102.5,273.9 1120.5,205.7 1137.5,170.0 1155.5,145.6" fill="none" stroke="#0000ff" stroke-width="2" stroke-linejoin="round" stroke-linecap="butt"/>
<polyline points="1155.5,145.6 1173.5,159.5 1190.5,183.3 1208.5,188.1" fill="none" stroke="#ff0000" stroke-width="2" stroke-linejoin="round" stroke-linecap="butt"/>
<polyline points="1208.5,188.1 1226.5,164.8 1243.5,130.3 1261.5,101.2 1279.5,71.3" fill="none" stroke="#0000ff" stroke-width="2" stroke-linejoin="round" stroke-linecap="butt"/>
</svg>
<div class="t" style="left:2.05px;top:0px;font-size:11px;font-weight:bold;letter-spacing:0.00px;color:#000;transform:scaleX(1.201)">(ENSG)</div>
<div class="t" style="left:4.90px;top:16px;font-size:10px;text-rendering:geometricPrecision;letter-spacing:0.00px;color:#006400;transform:scaleX(0.927)">ENSG</div>
<div class="t" style="left:39.05px;top:16px;font-size:10px;text-rendering:geometricPrecision;letter-spacing:0.00px;color:#0000ff;transform:scaleX(1.037)">MA(3)</div>
<div class="t" style="left:75.90px;top:16px;font-size:10px;text-rendering:geometricPrecision;letter-spacing:0.00px;color:#0000ff;transform:scaleX(1.064)">180.93</div>
<div class="t" style="left:4.90px;top:786px;font-size:10px;text-rendering:geometricPrecision;letter-spacing:0.00px;color:#000;transform:scaleX(0.903)">MACD</div>
<div class="t" style="left:32.00px;top:786px;font-size:10px;text-rendering:geometricPrecision;letter-spacing:0.00px;color:#000;transform:scaleX(1.109)">(26,12,9)</div>
<div class="t" style="left:86.95px;top:786px;font-size:10px;text-rendering:geometricPrecision;letter-spacing:0.00px;color:#0000ff;transform:scaleX(0.892)">MACD</div>
<div class="t" style="left:114.35px;top:786px;font-size:10px;text-rendering:geometricPrecision;letter-spacing:0.00px;color:#0000ff">:</div>
<div class="t" style="left:118.00px;top:786px;font-size:10px;text-rendering:geometricPrecision;letter-spacing:0.00px;color:#0000ff;transform:scaleX(1.079)">3.259</div>
<div class="t" style="left:1318.15px;top:751px;font-size:11px;letter-spacing:1.01px;color:#000">118.0</div>
<div class="t" style="left:1318.15px;top:724px;font-size:11px;letter-spacing:1.01px;color:#000">120.0</div>
<div class="t" style="left:1318.15px;top:698px;font-size:11px;letter-spacing:1.01px;color:#000">122.0</div>
<div class="t" style="left:1318.15px;top:671px;font-size:11px;letter-spacing:1.01px;color:#000">124.0</div>
<div class="t" style="left:1318.15px;top:646px;font-size:11px;letter-spacing:1.01px;color:#000">126.0</div>
<div class="t" style="left:1318.15px;top:620px;font-size:11px;letter-spacing:1.01px;color:#000">128.0</div>
<div class="t" style="left:1318.15px;top:595px;font-size:11px;letter-spacing:1.01px;color:#000">130.0</div>
<div class="t" style="left:1318.15px;top:571px;font-size:11px;letter-spacing:1.01px;color:#000">132.0</div>
<div class="t" style="left:1318.15px;top:547px;font-size:11px;letter-spacing:1.01px;color:#000">134.0</div>
<div class="t" style="left:1318.15px;top:523px;font-size:11px;letter-spacing:1.01px;color:#000">136.0</div>
<div class="t" style="left:1318.15px;top:499px;font-size:11px;letter-spacing:1.01px;color:#000">138.0</div>
<div class="t" style="left:1318.15px;top:476px;font-size:11px;letter-spacing:1.01px;color:#000">140.0</div>
<div class="t" style="left:1318.15px;top:453px;font-size:11px;letter-spacing:1.01px;color:#000">142.0</div>
<div class="t" style="left:1318.15px;top:431px;font-size:11px;letter-spacing:1.01px;color:#000">144.0</div>
<div class="t" style="left:1318.15px;top:409px;font-size:11px;letter-spacing:1.01px;color:#000">146.0</div>
<div class="t" style="left:1318.15px;top:387px;font-size:11px;letter-spacing:1.01px;color:#000">148.0</div>
<div class="t" style="left:1318.15px;top:365px;font-size:11px;letter-spacing:1.01px;color:#000">150.0</div>
<div class="t" style="left:1318.15px;top:344px;font-size:11px;letter-spacing:1.01px;color:#000">152.0</div>
<div class="t" style="left:1318.15px;top:323px;font-size:11px;letter-spacing:1.01px;color:#000">154.0</div>
<div class="t" style="left:1318.15px;top:302px;font-size:11px;letter-spacing:1.01px;color:#000">156.0</div>
<div class="t" style="left:1318.15px;top:282px;font-size:11px;letter-spacing:1.01px;color:#000">158.0</div>
<div class="t" style="left:1318.15px;top:261px;font-size:11px;letter-spacing:1.01px;color:#000">160.0</div>
<div class="t" style="left:1318.15px;top:241px;font-size:11px;letter-spacing:1.01px;color:#000">162.0</div>
<div class="t" style="left:1318.15px;top:222px;font-size:11px;letter-spacing:1.01px;color:#000">164.0</div>
<div class="t" style="left:1318.15px;top:202px;font-size:11px;letter-spacing:1.01px;color:#000">166.0</div>
<div class="t" style="left:1318.15px;top:183px;font-size:11px;letter-spacing:1.01px;color:#000">168.0</div>
<div class="t" style="left:1318.15px;top:164px;font-size:11px;letter-spacing:1.01px;color:#000">170.0</div>
<div class="t" style="left:1318.15px;top:145px;font-size:11px;letter-spacing:1.01px;color:#000">172.0</div>
<div class="t" style="left:1318.15px;top:126px;font-size:11px;letter-spacing:1.01px;color:#000">174.0</div>
<div class="t" style="left:1318.15px;top:108px;font-size:11px;letter-spacing:1.01px;color:#000">176.0</div>
<div class="t" style="left:1318.15px;top:90px;font-size:11px;letter-spacing:1.01px;color:#000">178.0</div>
<div class="t" style="left:1318.15px;top:72px;font-size:11px;letter-spacing:1.01px;color:#000">180.0</div>
<div class="t" style="left:1318.15px;top:54px;font-size:11px;letter-spacing:1.01px;color:#000">182.0</div>
<div class="t" style="left:1318.15px;top:37px;font-size:11px;letter-spacing:1.01px;color:#000">184.0</div>
<div style="position:absolute;left:1311px;top:32px;width:39px;height:13px;background:#b6fab6;border:1px solid #000"></div>
<div class="t" style="left:1316.90px;top:32px;font-size:11px;letter-spacing:1.00px;color:#000">185.4</div>
<div class="t" style="left:1318.65px;top:824px;font-size:11px;letter-spacing:0.91px;color:#000">4.000</div>
<div class="t" style="left:1318.65px;top:863px;font-size:11px;letter-spacing:0.91px;color:#000">2.000</div>
<div class="t" style="left:1318.65px;top:901px;font-size:11px;letter-spacing:0.91px;color:#000">0.000</div>
<div class="t" style="left:1318.65px;top:940px;font-size:11px;letter-spacing:0.97px;color:#000">-2.000</div>
<div class="t" style="left:1318.65px;top:979px;font-size:11px;letter-spacing:0.97px;color:#000">-4.000</div>
<div class="t" style="left:1318.65px;top:1018px;font-size:11px;letter-spacing:0.97px;color:#000">-6.000</div>
<div class="t" style="left:2.30px;top:770px;font-size:11px;letter-spacing:0.72px;color:#000">2024Jun</div>
<div class="t" style="left:2.30px;top:1025px;font-size:11px;letter-spacing:0.72px;color:#000">2024Jun</div>
<div class="t" style="left:71.50px;top:770px;font-size:11px;letter-spacing:0.65px;color:#000">Jul</div>
<div class="t" style="left:71.50px;top:1025px;font-size:11px;letter-spacing:0.65px;color:#000">Jul</div>
<div class="t" style="left:157.88px;top:770px;font-size:11px;letter-spacing:0.65px;color:#000">Aug</div>
<div class="t" style="left:157.88px;top:1025px;font-size:11px;letter-spacing:0.65px;color:#000">Aug</div>
<div class="t" style="left:227.50px;top:770px;font-size:11px;letter-spacing:0.65px;color:#000">Sep</div>
<div class="t" style="left:227.50px;top:1025px;font-size:11px;letter-spacing:0.65px;color:#000">Sep</div>
<div class="t" style="left:316.50px;top:770px;font-size:11px;letter-spacing:0.65px;color:#000">Oct</div>
<div class="t" style="left:316.50px;top:1025px;font-size:11px;letter-spacing:0.65px;color:#000">Oct</div>
<div class="t" style="left:386.12px;top:770px;font-size:11px;letter-spacing:0.65px;color:#000">Nov</div>
<div class="t" style="left:386.12px;top:1025px;font-size:11px;letter-spacing:0.65px;color:#000">Nov</div>
<div class="t" style="left:456.25px;top:770px;font-size:11px;letter-spacing:0.65px;color:#000">Dec</div>
<div class="t" style="left:456.25px;top:1025px;font-size:11px;letter-spacing:0.65px;color:#000">Dec</div>
<div class="t" style="left:533.00px;top:770px;font-size:11px;letter-spacing:0.65px;color:#000">2025Jan</div>
<div class="t" style="left:533.00px;top:1025px;font-size:11px;letter-spacing:0.65px;color:#000">2025Jan</div>
<div class="t" style="left:615.62px;top:770px;font-size:11px;letter-spacing:0.65px;color:#000">Feb</div>
<div class="t" style="left:615.62px;top:1025px;font-size:11px;letter-spacing:0.65px;color:#000">Feb</div>
<div class="t" style="left:686.50px;top:770px;font-size:11px;letter-spacing:0.65px;color:#000">Mar</div>
<div class="t" style="left:686.50px;top:1025px;font-size:11px;letter-spacing:0.65px;color:#000">Mar</div>
<div class="t" style="left:775.88px;top:770px;font-size:11px;letter-spacing:0.65px;color:#000">Apr</div>
<div class="t" style="left:775.88px;top:1025px;font-size:11px;letter-spacing:0.65px;color:#000">Apr</div>
<div class="t" style="left:843.50px;top:770px;font-size:11px;letter-spacing:0.65px;color:#000">May</div>
<div class="t" style="left:843.50px;top:1025px;font-size:11px;letter-spacing:0.65px;color:#000">May</div>
<div class="t" style="left:916.62px;top:770px;font-size:11px;letter-spacing:0.65px;color:#000">Jun</div>
<div class="t" style="left:916.62px;top:1025px;font-size:11px;letter-spacing:0.65px;color:#000">Jun</div>
<div class="t" style="left:1006.50px;top:770px;font-size:11px;letter-spacing:0.65px;color:#000">Jul</div>
<div class="t" style="left:1006.50px;top:1025px;font-size:11px;letter-spacing:0.65px;color:#000">Jul</div>
<div class="t" style="left:1074.88px;top:770px;font-size:11px;letter-spacing:0.65px;color:#000">Aug</div>
<div class="t" style="left:1074.88px;top:1025px;font-size:11px;letter-spacing:0.65px;color:#000">Aug</div>
<div class="t" style="left:1144.50px;top:770px;font-size:11px;letter-spacing:0.65px;color:#000">Sep</div>
<div class="t" style="left:1144.50px;top:1025px;font-size:11px;letter-spacing:0.65px;color:#000">Sep</div>
<div class="t" style="left:1233.50px;top:770px;font-size:11px;letter-spacing:0.65px;color:#000">Oct</div>
<div class="t" style="left:1233.50px;top:1025px;font-size:11px;letter-spacing:0.65px;color:#000">Oct</div>
<div class="t" style="left:1277.75px;top:1041px;font-size:11px;letter-spacing:0.00px;color:#000">&copy;</div>
<div class="t" style="left:1288.55px;top:1041px;font-size:11px;letter-spacing:0.22px;color:#000">12Stocks.com</div>
</body></html>
